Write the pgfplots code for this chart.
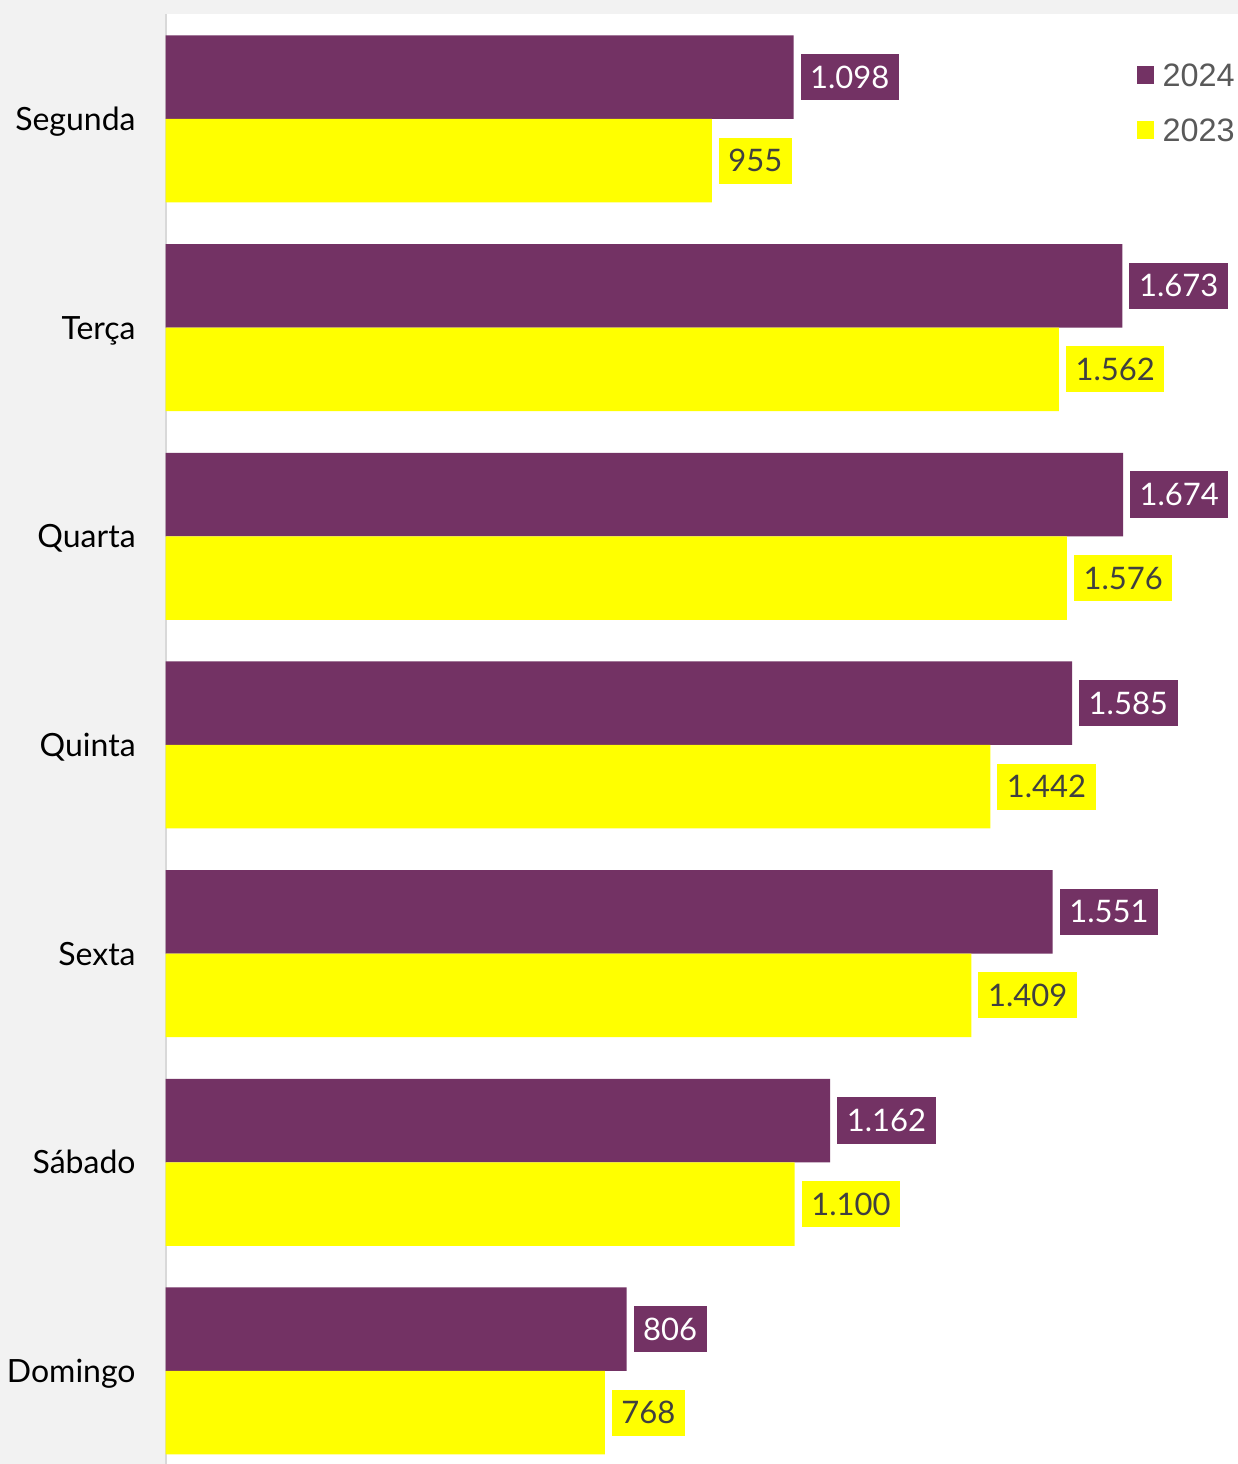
\documentclass[border=0pt]{standalone}
\usepackage{fontspec}
\setmainfont{Lato}
\newfontfamily\legfont{Liberation Sans}
\usepackage{pgfplots}
\usepackage{pgfplotstable}
\pgfplotsset{compat=1.18}
\definecolor{purp}{HTML}{733264}
\definecolor{yel}{HTML}{FFFF00}
\definecolor{bgg}{HTML}{F2F2F2}
\definecolor{axg}{HTML}{D9D9D9}
\definecolor{dtxt}{HTML}{404040}
\definecolor{legtxt}{HTML}{595959}

\pgfplotstableread{
idx v2024 v2023
0 1098 955
1 1673 1562
2 1674 1576
3 1585 1442
4 1551 1409
5 1162 1100
6 806 768
}\data

\begin{document}
\begin{tikzpicture}
\fill[bgg] (0,0) rectangle (619pt,732pt);
\begin{axis}[
  at={(82.8pt,0pt)}, anchor=south west,
  scale only axis, width=536.2pt, height=725pt,
  axis background/.style={fill=white},
  xbar, bar width=0.4,
  xmin=0, xmax=1875,
  ymin=-0.503, ymax=6.446, y dir=reverse,
  axis x line=none, axis y line=left,
  y axis line style={-, draw=axg, line width=1pt},
  ytick={0,...,6},
  yticklabels={Segunda,Terça,Quarta,Quinta,Sexta,Sábado,Domingo},
  major tick length=0pt,
  yticklabel style={font=\fontsize{16}{16}\selectfont, text=black, anchor=base east, inner sep=0pt, xshift=-14.8pt, yshift=-5.7pt},
  point meta=x,
  nodes near coords,
  /pgf/number format/fixed,
  /pgf/number format/precision=0,
  /pgf/number format/1000 sep={.},
  /pgf/number format/assume math mode=true,
  every node near coord/.append style={anchor=west, xshift=3.3pt, font=\fontsize{15.5}{15.5}\selectfont, inner xsep=4.8pt, inner ysep=6pt, text height=11.1pt, text depth=0pt},
  legend style={draw=none, fill=none, at={(rel axis cs:1,1)}, anchor=north east, xshift=-1.5pt, yshift=-24.6pt, font=\legfont\fontsize{16.2}{16.2}\selectfont, text=legtxt, inner sep=0pt, row sep=15.8pt, column sep=4.2pt, nodes={inner sep=0pt, text height=11.6pt, text depth=0pt}},
  legend image code/.code={\fill[#1] (0pt,-4.4pt) rectangle (8.8pt,4.4pt);},
]
\addlegendimage{fill=purp, draw=none}
\addlegendentry{2024}
\addlegendimage{fill=yel, draw=none}
\addlegendentry{2023}
\addplot[forget plot, fill=purp, draw=none, bar shift=-0.2, every node near coord/.append style={fill=purp, text=white}] table[x=v2024, y=idx]{\data};
\addplot[forget plot, fill=yel, draw=none, bar shift=0.2, every node near coord/.append style={fill=yel, text=dtxt}] table[x=v2023, y=idx]{\data};
\end{axis}
\pgfresetboundingbox
\path (0,0) rectangle (619pt,732pt);
\end{tikzpicture}
\end{document}
